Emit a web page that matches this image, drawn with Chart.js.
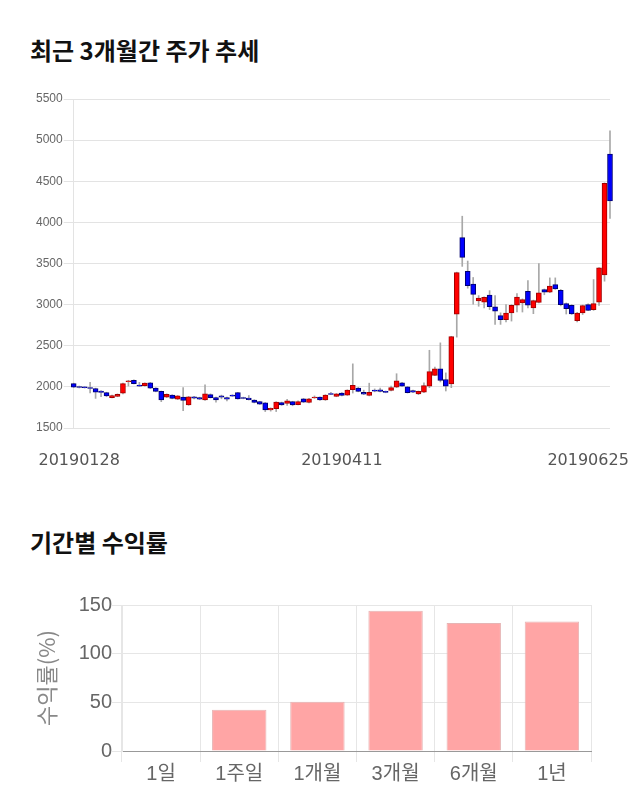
<!DOCTYPE html>
<html>
<head>
<meta charset="utf-8">
<script src="https://cdn.jsdelivr.net/npm/chart.js@4"></script>
<style>
  body { margin: 0; background: #fff; width: 640px; height: 810px; position: relative; overflow: hidden; }
  .title { position: absolute; left: 30px; font-family: "Noto Sans CJK KR", sans-serif; font-weight: bold; font-size: 24px; color: #111; line-height: 1; }
  canvas { position: absolute; left: 0; }
</style>
</head>
<body>
<div class="title" style="top:38px">최근 3개월간 주가 추세</div>
<canvas id="priceChart" width="640" height="400" style="top:85px"></canvas>
<div class="title" style="top:530px">기간별 수익률</div>
<canvas id="returnChart" width="640" height="215" style="top:585px"></canvas>
<script>
// 일봉 (20190128 ~ 20190625)
const candleOpen = [2040,2005,2002,1992,1980,1948,1930,1870,1885,1923,2062,2080,2022,2015,2050,1985,1945,1875,1900,1850,
  1875,1780,1880,1870,1840,1905,1870,1890,1870,1900,1930,1870,1865,1840,1820,1805,1720,1735,1810,1800,
  1820,1785,1855,1810,1865,1875,1840,1920,1885,1925,1900,1965,1985,1935,1895,1960,1965,1945,1958,1995,
  2050,2000,1955,1915,1935,2010,2140,2220,2090,2035,2885,3815,3405,3250,3045,3030,3115,2972,2866,2817,
  2898,2992,3020,3163,2960,3028,3183,3150,3244,3175,3012,2992,2805,2898,3000,2939,3029,3362,4829];
const candleClose = [1995,1993,1990,1980,1935,1932,1890,1895,1910,2040,2075,2040,2010,2045,1985,1945,1840,1910,1860,1890,
  1835,1880,1862,1850,1915,1870,1840,1875,1850,1888,1855,1860,1845,1810,1790,1720,1740,1815,1780,1830,
  1780,1820,1815,1855,1877,1840,1900,1908,1915,1895,1960,2020,1945,1910,1935,1947,1945,1933,1990,2075,
  2010,1930,1935,1945,2015,2185,2220,2080,2010,2610,3390,3575,3230,3125,3080,3090,2975,2919,2817,2898,
  2992,3093,3061,2992,3049,3142,3150,3224,3191,3000,2951,2886,2898,2988,2931,3012,3447,4476,4260];
const candleHigh = [2045,2010,2005,2055,1985,1955,1935,1900,1915,2045,2080,2085,2055,2050,2055,1990,1950,1915,1905,1895,
  1990,1885,1885,1875,2025,1915,1875,1900,1875,1905,1935,1875,1895,1845,1825,1810,1745,1820,1815,1850,
  1825,1830,1860,1860,1890,1880,1905,1935,1920,1930,1965,2280,1995,1960,2045,1975,1985,1950,2010,2160,
  2055,2005,1960,1950,2050,2445,2240,2535,2170,2615,3395,4075,3530,3330,3110,3095,3170,3110,2900,3000,
  3000,3134,3070,3293,3055,3500,3190,3325,3325,3185,3020,3000,2905,2995,3010,3305,3450,4480,5114];
const candleLow = [1990,1988,1985,1925,1860,1880,1880,1865,1880,1915,2010,2035,2005,2010,1980,1940,1820,1870,1855,1845,
  1710,1775,1855,1845,1835,1865,1815,1855,1830,1885,1850,1855,1840,1805,1785,1700,1705,1700,1775,1775,
  1770,1780,1810,1805,1860,1835,1835,1905,1880,1890,1895,1925,1940,1905,1890,1940,1940,1928,1950,1990,
  2005,1925,1930,1905,1930,1990,2135,2060,1950,1990,2605,3465,3200,3005,2980,2960,2940,2760,2760,2790,
  2800,2910,2910,2960,2890,3020,3120,3145,3185,2985,2886,2880,2790,2880,2925,2930,2990,3285,4049];
const dateTickIndex = [1, 49, 94];
const dateTickText = ['20190128', '20190411', '20190625'];
const priceTicks = { min: 1500, max: 5500, step: 500 };

// 기간별 수익률
const periodLabels = ['1일', '1주일', '1개월', '3개월', '6개월', '1년'];
const periodReturns = [0, 42.5, 50.5, 144, 131.5, 133];

document.addEventListener('DOMContentLoaded', () => {
  const idx = candleOpen.map((_, i) => i);
  const isUp = candleOpen.map((o, i) => candleClose[i] >= o);

  // 그래프 1 : 캔들 차트 (몸통 + 꼬리를 floating bar 로)
  new Chart(document.getElementById('priceChart'), {
    type: 'bar',
    data: {
      labels: idx,
      datasets: [{
        label: 'body',
        data: idx.map(i => [candleOpen[i], candleClose[i]]),
        backgroundColor: isUp.map(u => u ? '#ff0000' : '#0000ff'),
        borderColor: isUp.map(u => u ? '#a00000' : '#00006e'),
        borderWidth: 1,
        borderSkipped: false,
        barThickness: 5,
        grouped: false,
        clip: false,
        order: 0
      }, {
        label: 'wick',
        data: idx.map(i => [candleLow[i], candleHigh[i]]),
        backgroundColor: '#a8a8a8',
        barThickness: 1,
        grouped: false,
        clip: false,
        order: 1
      }]
    },
    options: {
      responsive: false,
      animation: false,
      layout: { padding: { left: 35, right: 30, top: 14, bottom: 7 } },
      plugins: { legend: { display: false }, tooltip: { enabled: false } },
      scales: {
        x: {
          offset: false,
          grid: { display: false },
          border: { display: false },
          ticks: {
            autoSkip: false,
            maxRotation: 0,
            padding: 15,
            color: '#555',
            font: { family: 'DejaVu Sans', size: 16 },
            callback: (v, i) => {
              const k = dateTickIndex.indexOf(i);
              return k >= 0 ? dateTickText[k] : '';
            }
          },
          afterFit: (axis) => { axis.height = 50; }
        },
        y: {
          min: priceTicks.min,
          max: priceTicks.max,
          ticks: {
            stepSize: priceTicks.step, padding: 1, color: '#666',
            font: { family: 'Liberation Sans', size: 12 },
            callback: (v) => String(v)
          },
          grid: { color: '#e3e3e3', tickLength: 10 },
          border: { color: '#e3e3e3' }
        }
      }
    }
  });

  // 그래프 2 : 기간별 수익률
  new Chart(document.getElementById('returnChart'), {
    type: 'bar',
    data: {
      labels: periodLabels,
      datasets: [{
        label: '수익률(%)',
        data: periodReturns,
        backgroundColor: '#ffa5a5',
        borderColor: '#e6b4b4',
        borderWidth: 1,
        categoryPercentage: 0.8,
        barPercentage: 0.87
      }]
    },
    options: {
      responsive: false,
      animation: false,
      layout: { padding: { left: 33, right: 49, top: 20, bottom: 9 } },
      plugins: { legend: { display: false }, tooltip: { enabled: false } },
      scales: {
        x: {
          grid: { color: '#e6e6e6', tickLength: 11 },
          border: { color: '#999' },
          ticks: { padding: 0, color: '#666', font: { family: "'Liberation Sans', 'Noto Sans CJK KR'", size: 20 } },
          afterFit: (axis) => { axis.height = 40; }
        },
        y: {
          min: 0,
          max: 150,
          ticks: { stepSize: 50, padding: 0, color: '#666', font: { family: 'Liberation Sans', size: 20 } },
          grid: { color: '#e6e6e6', tickLength: 10 },
          border: { color: '#e6e6e6' },
          title: {
            display: true,
            text: '수익률(%)',
            color: '#888',
            padding: { top: 0, bottom: 0 },
            font: { family: 'Noto Sans CJK KR', size: 22 }
          },
          afterFit: (axis) => { axis.width = 89; }
        }
      }
    }
  });
});
</script>
</body>
</html>
